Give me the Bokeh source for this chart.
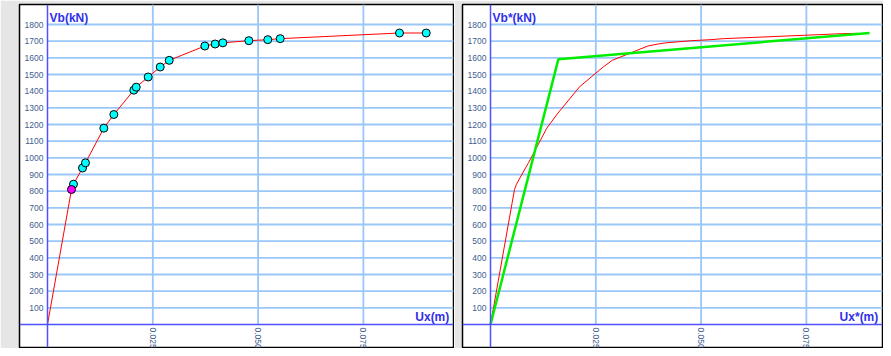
from bokeh.plotting import figure
from bokeh.layouts import row
from bokeh.models import FixedTicker, Label, Range1d, NumeralTickFormatter
from bokeh.embed import file_html
from bokeh.resources import INLINE

# Capacity (pushover) curve, panel 1
ux = [0, 0.0057, 0.00617, 0.00831, 0.00902, 0.01337, 0.01575, 0.02049, 0.02106, 0.0239,
      0.02676, 0.0289, 0.03735, 0.0398, 0.04163, 0.0478, 0.0523, 0.05525, 0.08357, 0.08991]
vb = [0, 810, 842, 939, 970, 1178, 1260, 1406, 1424, 1485,
      1545, 1585, 1671, 1683, 1690, 1703, 1709, 1715, 1749, 1749]
# first-yield step (magenta) and the analysis steps (cyan)
step_first_ux = [0.0057]
step_first_vb = [810]
steps_ux = ux[2:]
steps_vb = vb[2:]

# Equivalent SDOF curve, panel 2
ux_star = [0, 0.0057, 0.00617, 0.00831, 0.00902, 0.01337, 0.01575, 0.02049, 0.02106, 0.0239,
           0.02676, 0.0289, 0.03735, 0.0398, 0.04163, 0.0478, 0.0523, 0.05525, 0.08357, 0.0871]
vb_star = [0, 810, 842, 939, 970, 1178, 1260, 1406, 1424, 1485,
           1545, 1585, 1671, 1683, 1690, 1703, 1709, 1715, 1745, 1747]
# Bilinear idealisation
bil_ux = [0, 0.0161, 0.0900]
bil_vb = [0, 1591, 1749]

y_ticks = list(range(100, 1900, 100))
x_ticks = [0.025, 0.050, 0.075]

GRAY = "#e6e6e6"
GRID = "#99c7f7"
AXIS = "#5050ff"
TICKTXT = "#41608f"
TITLE = "#3030e8"

X_START = -0.006648
Y_START = -138.0
Y_END = 1920.0


def make_panel(frame_w, x_end, xtitle, ytitle, left_border):
    p = figure(frame_width=frame_w, frame_height=343,
               output_backend="svg", toolbar_location=None,
               x_range=Range1d(X_START, x_end), y_range=Range1d(Y_START, Y_END),
               min_border_left=left_border, min_border_right=1,
               min_border_top=4, min_border_bottom=1,
               background_fill_color="white", border_fill_color=GRAY,
               outline_line_color="black", outline_line_width=1.5)
    p.xgrid.visible = False
    p.ygrid.visible = False
    # grid lines, from the axes outward
    p.segment(x0=0, y0=y_ticks, x1=x_end, y1=y_ticks, line_color=GRID, line_width=1.8)
    p.segment(x0=x_ticks, y0=0, x1=x_ticks, y1=Y_END, line_color=GRID, line_width=1.8)

    for ax in (p.xaxis[0], p.yaxis[0]):
        ax.fixed_location = 0
        ax.axis_line_color = AXIS
        ax.axis_line_width = 1.5
        ax.major_tick_line_color = None
        ax.minor_tick_line_color = None
        ax.major_tick_out = 0
        ax.major_tick_in = 0
        ax.minor_tick_out = 0
        ax.minor_tick_in = 0
        ax.major_label_text_font = "Liberation Sans"
        ax.major_label_text_font_size = "8.5px"
        ax.major_label_text_color = TICKTXT
    p.yaxis.ticker = FixedTicker(ticks=y_ticks)
    p.yaxis.major_label_standoff = 4
    p.xaxis.ticker = FixedTicker(ticks=x_ticks)
    p.xaxis.formatter = NumeralTickFormatter(format="0.000")
    p.xaxis.major_label_orientation = "vertical"
    p.xaxis.major_label_standoff = 3

    p.add_layout(Label(x=0.0005, y=1884, text=ytitle, text_baseline="top",
                       text_align="left", text_font="Liberation Sans",
                       text_font_style="bold", text_font_size="12px", text_color=TITLE))
    p.add_layout(Label(x=x_end - 0.001, y=6, text=xtitle, text_baseline="bottom",
                       text_align="right", text_font="Liberation Sans",
                       text_font_style="bold", text_font_size="12px", text_color=TITLE))
    return p


p1 = make_panel(434, 0.09639, "Ux(m)", "Vb(kN)", 19)
p1.line(ux, vb, line_color="#ff0000", line_width=1)
p1.scatter(steps_ux, steps_vb, size=8, fill_color="#00ffff", line_color="black", line_width=1)
p1.scatter(step_first_ux, step_first_vb, size=8, fill_color="#ff00ff", line_color="black", line_width=1)

p2 = make_panel(420, 0.09307, "Ux*(m)", "Vb*(kN)", 8)
p2.line(ux_star, vb_star, line_color="#ff0000", line_width=1)
p2.line(bil_ux, bil_vb, line_color="#00ee00", line_width=2.5)

layout = row(p1, p2)
layout.spacing = 0

open("out.html", "w").write(file_html(layout, INLINE))
